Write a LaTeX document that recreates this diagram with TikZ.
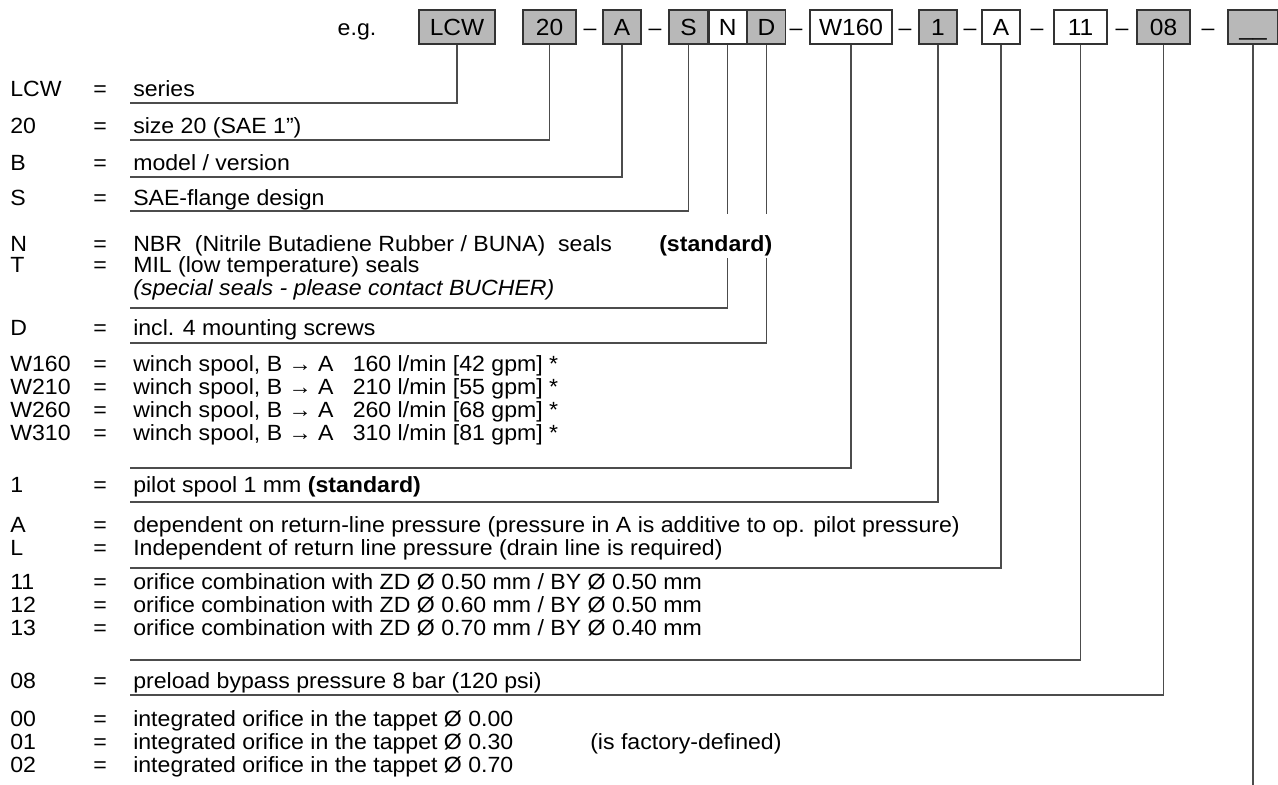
\documentclass[tikz,border=0pt]{standalone}
\usepackage{fontspec}
\setmainfont[FakeStretch=1.05]{Liberation Sans}
\usetikzlibrary{positioning}
\definecolor{boxgray}{gray}{0.72}
\definecolor{leadgray}{gray}{0.3}
\tikzset{
code/.style={draw=black!80, line width=0.9pt, fill=boxgray, minimum height=25.5pt,
  inner sep=0pt, text height=14.5pt, text depth=2.5pt, font=\fontsize{17.5}{20}\selectfont},
codew/.style={code, fill=white},
lead/.style={draw=leadgray, line width=0.9pt},
key/.style={anchor=base west, inner sep=0pt},
sep/.style={inner sep=0pt, text height=14.5pt, text depth=2.5pt}
}

\begin{document}
\begin{tikzpicture}[x=0.75pt, y=-0.75pt, font=\fontsize{16.5}{19}\selectfont]
\useasboundingbox (0,0) rectangle (1278,785);
% type code
\node[sep] (eg) at (357,27) {e.g.};
\node[code, minimum width=57pt] (lcw) at (457,27) {LCW};
\node[code, minimum width=39.75pt] (sz) at (549.5,27) {20};
\node[code, minimum width=28.5pt] (mdl) at (622,27) {A};
\node[code, minimum width=29.25pt] (sae) at (688.5,27) {S};
\node[codew, minimum width=27.75pt, right=0pt of sae] (seal) {N};
\node[code, minimum width=28.5pt, right=0pt of seal] (scr) {D};
\node[codew, minimum width=61.5pt] (spl) at (851,27) {W160};
\node[code, minimum width=28.5pt] (pil) at (938,27) {1};
\node[codew, minimum width=28.5pt] (prs) at (1001,27) {A};
\node[codew, minimum width=39.75pt] (orf) at (1080.5,27) {11};
\node[code, minimum width=39.75pt] (byp) at (1163.5,27) {08};
\node[code, minimum width=37.5pt] (tap) at (1253,27) {\_\_};
\foreach \x [count=\i] in {590,655,796,905,970,1037,1122,1208}
  \node[sep] (m\i) at (\x,27) {--};

% legend rows
\foreach \y/\k/\t in {
  96/LCW/{series},
  133/20/{size 20 (SAE 1")},
  170/B/{model / version},
  205/S/{SAE-flange design},
  251/N/{NBR\ \ (Nitrile Butadiene Rubber / BUNA)\ \ seals},
  272/T/{MIL (low temperature) seals},
  335/D/{incl. 4 mounting screws},
  371/W160/{winch spool, B → A\ \ \ 160 l/min [42 gpm] *},
  394/W210/{winch spool, B → A\ \ \ 210 l/min [55 gpm] *},
  417/W260/{winch spool, B → A\ \ \ 260 l/min [68 gpm] *},
  440/W310/{winch spool, B → A\ \ \ 310 l/min [81 gpm] *},
  492/1/{pilot spool 1 mm \textbf{(standard)}},
  532/A/{dependent on return-line pressure (pressure in A is additive to op. pilot pressure)},
  555/L/{Independent of return line pressure (drain line is required)},
  589/11/{orifice combination with ZD Ø 0.50 mm / BY Ø 0.50 mm},
  612/12/{orifice combination with ZD Ø 0.60 mm / BY Ø 0.50 mm},
  635/13/{orifice combination with ZD Ø 0.70 mm / BY Ø 0.40 mm},
  688/08/{preload bypass pressure 8 bar (120 psi)},
  726/00/{integrated orifice in the tappet Ø 0.00},
  749/01/{integrated orifice in the tappet Ø 0.30},
  772/02/{integrated orifice in the tappet Ø 0.70}}{
  \node[key] (k\y) at (10,\y) {\k};
  \node[key] (e\y) at (93,\y) {=};
  \node[key] (d\y) at (133,\y) {\t};
}
\node[key] (d295) at (133,295) {\textit{(special seals - please contact BUCHER)}};
\node[key] (fac) at (590,749) {(is factory-defined)};

% lead lines
\foreach \b/\yy in {lcw/103, sz/140, mdl/177, sae/211, seal/308, scr/343,
                    spl/468, pil/502, prs/568, orf/660, byp/695}{
  \coordinate (u-\b) at (130,\yy);
  \draw[lead] (\b.south) |- (u-\b);
}
\path (tap.south) -- ++(0,741) coordinate (u-tap);
\draw[lead] (tap.south) -- (u-tap);

\node[key, fill=white, inner xsep=1.5pt, text height=27.75pt, text depth=5.25pt]
  (std) at (657,251) {\textbf{(standard)}};
\end{tikzpicture}
\end{document}
